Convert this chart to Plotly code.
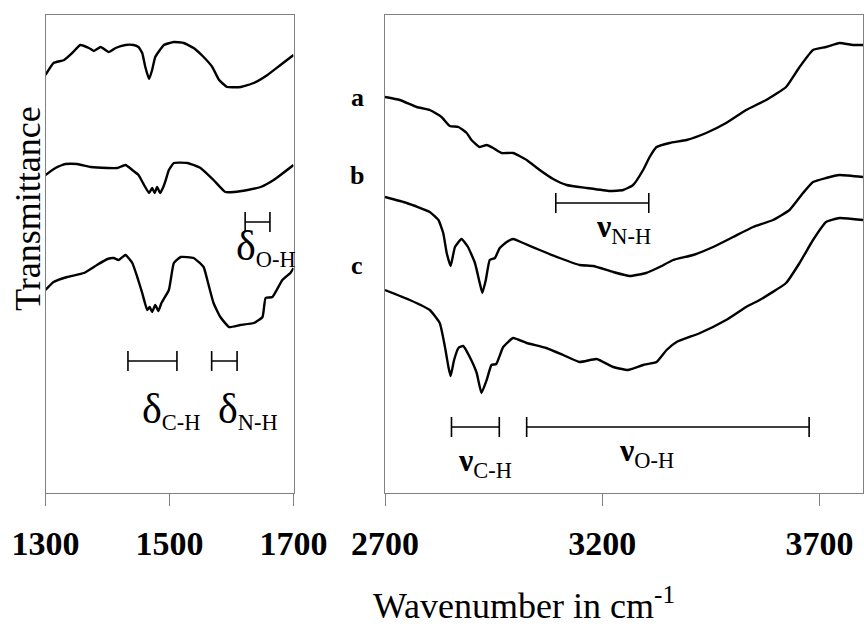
import plotly.graph_objects as go

# ---------------- data (transmittance in arbitrary offset units) ----------------
wn_low_a = [1300, 1313, 1330, 1343, 1356, 1370, 1378, 1389, 1402, 1413, 1429, 1442, 1450, 1456, 1461,
            1467, 1472, 1477, 1491, 1507, 1523, 1539, 1555, 1569, 1580, 1593, 1615, 1636, 1658, 1679, 1700]
t_low_a = [418, 430, 433, 440, 448, 445, 442, 446, 441, 445, 448, 448, 446, 440, 426,
           414, 423, 436, 448, 451, 450, 445, 436, 426, 413, 406, 406, 410, 418, 428, 438]

wn_low_b = [1300, 1316, 1332, 1351, 1373, 1400, 1416, 1429, 1440, 1450, 1459, 1467, 1472, 1476, 1480,
            1485, 1490, 1494, 1499, 1507, 1529, 1550, 1571, 1590, 1604, 1626, 1647, 1668, 1700]
t_low_b = [318, 325, 329, 329, 326, 325, 325, 328, 323, 318, 308, 300, 305, 300, 306,
           300, 306, 313, 323, 330, 330, 325, 313, 301, 301, 303, 306, 313, 328]

wn_low_c = [1300, 1313, 1335, 1362, 1383, 1400, 1410, 1418, 1429, 1440, 1448, 1456, 1464, 1468, 1472,
            1477, 1482, 1487, 1499, 1507, 1518, 1539, 1555, 1561, 1571, 1582, 1596, 1614, 1636, 1650,
            1655, 1666, 1682, 1695, 1700]
t_low_c = [203, 211, 216, 220, 228, 234, 235, 233, 238, 230, 216, 200, 183, 186, 181,
           188, 182, 190, 203, 230, 236, 235, 226, 213, 190, 176, 166, 168, 170, 176,
           195, 196, 213, 220, 225]

wn_high_a = [2700, 2734, 2773, 2803, 2830, 2849, 2869, 2888, 2899, 2918, 2934, 2949, 2968, 2995, 3026,
             3056, 3087, 3118, 3164, 3217, 3248, 3271, 3294, 3309, 3325, 3355, 3394, 3439, 3485, 3531,
             3577, 3623, 3654, 3685, 3715, 3746, 3777, 3800]
t_high_a = [396, 393, 386, 383, 376, 367, 366, 360, 353, 346, 348, 345, 340, 340, 333,
            323, 314, 308, 305, 302, 303, 308, 323, 336, 346, 350, 353, 360, 370, 383,
            393, 406, 426, 443, 446, 450, 448, 448]

wn_high_b = [2700, 2750, 2803, 2823, 2834, 2842, 2851, 2861, 2876, 2891, 2907, 2918, 2924, 2932, 2941,
             2953, 2964, 2980, 2995, 3018, 3056, 3102, 3148, 3179, 3225, 3263, 3301, 3332, 3363, 3409,
             3455, 3501, 3547, 3593, 3631, 3662, 3685, 3715, 3746, 3800]
t_high_b = [296, 290, 281, 273, 260, 240, 227, 246, 254, 246, 230, 210, 200, 213, 233,
            235, 245, 251, 254, 250, 243, 235, 228, 227, 221, 217, 220, 226, 233, 238,
            246, 256, 266, 273, 283, 300, 311, 315, 318, 316]

wn_high_c = [2700, 2757, 2803, 2826, 2838, 2846, 2851, 2859, 2869, 2880, 2895, 2911, 2922, 2934, 2945,
             2956, 2972, 2995, 3026, 3071, 3110, 3148, 3187, 3225, 3259, 3294, 3325, 3348, 3371, 3425,
             3485, 3531, 3562, 3623, 3654, 3685, 3715, 3746, 3800]
t_high_c = [203, 193, 183, 170, 146, 126, 117, 133, 145, 147, 136, 120, 100, 113, 128,
            129, 146, 155, 150, 145, 138, 131, 134, 126, 123, 128, 131, 143, 151, 160,
            173, 186, 193, 210, 230, 253, 271, 275, 273]

# band assignment brackets
DELTA = "<span style='font-size:42px'>δ</span>"
NU = "<b>ν</b>"
band_labels = [DELTA + "<sub>O-H</sub>", DELTA + "<sub>C-H</sub>", DELTA + "<sub>N-H</sub>",
               NU + "<sub>N-H</sub>", NU + "<sub>C-H</sub>", NU + "<sub>O-H</sub>"]
band_start = [1622, 1433, 1568, 3093, 2853, 3026]
band_end = [1662, 1512, 1609, 3307, 2963, 3676]
band_level = [271, 132, 132, 290, 66, 66]
band_panel = ["low", "low", "low", "high", "high", "high"]

sample_labels = ["a", "b", "c"]
low_ticks = [1300, 1500, 1700]
high_ticks = [2700, 3200, 3700]

# ---------------- figure ----------------
W, H = 864, 629
FONT = "Liberation Serif"
GREY = "#808080"
fig = go.Figure()

line_style = dict(color="black", width=2.4, shape="spline", smoothing=0.4)
for xs, ys in [(wn_low_a, t_low_a), (wn_low_b, t_low_b), (wn_low_c, t_low_c)]:
    fig.add_trace(go.Scatter(x=xs, y=ys, mode="lines", line=line_style, xaxis="x", yaxis="y",
                             showlegend=False, hoverinfo="skip"))
for xs, ys in [(wn_high_a, t_high_a), (wn_high_b, t_high_b), (wn_high_c, t_high_c)]:
    fig.add_trace(go.Scatter(x=xs, y=ys, mode="lines", line=line_style, xaxis="x2", yaxis="y2",
                             showlegend=False, hoverinfo="skip"))

# brackets
half = 10
text_pos = {
    0: (1656, 246), 1: (1502, 83), 2: (1626, 83),
    3: (3248, 265), 4: (2930, 31), 5: (3301, 41),
}
for i, lab in enumerate(band_labels):
    xa, ya = ("x", "y") if band_panel[i] == "low" else ("x2", "y2")
    s, e, lv = band_start[i], band_end[i], band_level[i]
    fig.add_trace(go.Scatter(
        x=[s, s, None, s, e, None, e, e],
        y=[lv - half, lv + half, None, lv, lv, None, lv - half, lv + half],
        mode="lines", line=dict(color="black", width=1.6), xaxis=xa, yaxis=ya,
        showlegend=False, hoverinfo="skip"))
    tx, ty = text_pos[i]
    fig.add_annotation(x=tx, y=ty, xref=xa, yref=ya, text=lab, showarrow=False,
                       xanchor="center", yanchor="middle",
                       font=dict(family=FONT, size=32, color="black"))

abc_y = [97, 176, 265]
for lab, py in zip(sample_labels, abc_y):
    fig.add_annotation(x=357 / W, y=1 - py / H, xref="paper", yref="paper", text=f"<b>{lab}</b>",
                       showarrow=False, xanchor="center", yanchor="middle",
                       font=dict(family=FONT, size=26, color="black"))

fig.add_annotation(x=524 / W, y=1 - 603 / H, xref="paper", yref="paper",
                   text="Wavenumber in cm<sup>-1</sup>", showarrow=False,
                   xanchor="center", yanchor="middle",
                   font=dict(family=FONT, size=36, color="black"))
fig.add_annotation(x=28 / W, y=1 - 209 / H, xref="paper", yref="paper", text="Transmittance",
                   textangle=-90, showarrow=False, xanchor="center", yanchor="middle",
                   font=dict(family=FONT, size=36, color="black"))

ydom = [1 - 493 / H, 1 - 15 / H]
xaxis_common = dict(showline=True, linecolor=GREY, linewidth=1, mirror=True, ticks="outside",
                    ticklen=12, tickcolor=GREY, tickwidth=1, showgrid=False, zeroline=False,
                    automargin=False,
                    tickfont=dict(family=FONT, size=34, color="black"), ticklabelstandoff=8)
yaxis_common = dict(showline=True, linecolor=GREY, linewidth=1, mirror=True, showticklabels=False,
                    ticks="", showgrid=False, zeroline=False, range=[0, 478], domain=ydom,
                    automargin=False)

fig.update_layout(
    width=W, height=H, autosize=False,
    margin=dict(l=0, r=0, t=0, b=0, pad=0, autoexpand=False),
    paper_bgcolor="white", plot_bgcolor="white",
    xaxis=dict(domain=[45.5 / W, 293.5 / W], range=[1300, 1700], tickvals=low_ticks,
               ticktext=[f"<b>{v}</b>" for v in low_ticks], **xaxis_common),
    yaxis=dict(anchor="x", **yaxis_common),
    xaxis2=dict(domain=[385 / W, 863 / W], range=[2700, 3800], tickvals=high_ticks,
                ticktext=[f"<b>{v}</b>" for v in high_ticks], anchor="y2", **xaxis_common),
    yaxis2=dict(anchor="x2", **yaxis_common),
    showlegend=False,
)

fig.write_html("out.html", config={"responsive": False, "displayModeBar": False},
               post_script="document.body.style.margin='0';document.body.style.overflow='hidden';")
